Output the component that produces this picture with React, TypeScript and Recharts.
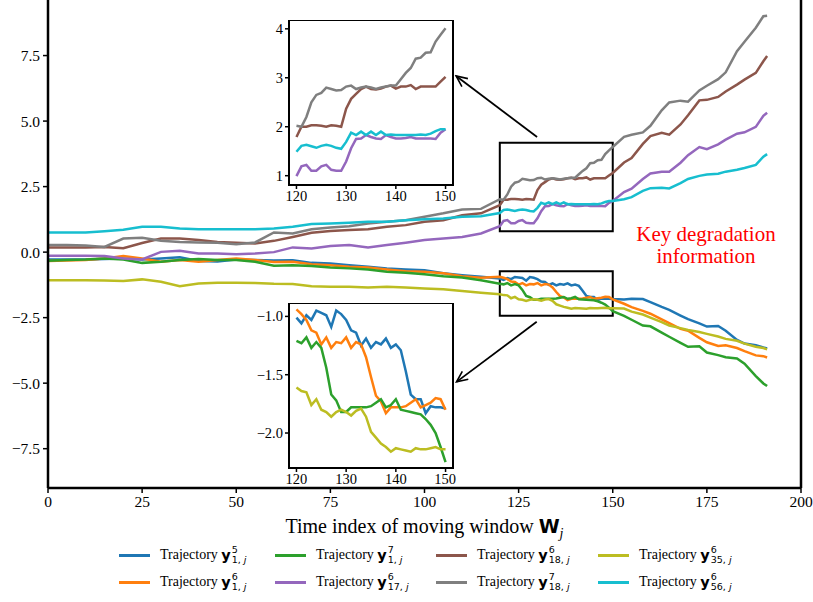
import React from 'react';
import { LineChart, Line, XAxis, YAxis, ReferenceArea, ReferenceLine } from 'recharts';

// time index of the moving window (dense inside the zoomed 120-150 range)
const windowIndex = [
  0, 5, 10, 15, 20, 25, 30, 35, 40, 45, 50, 55, 60, 65, 70, 75, 80, 85, 90, 95, 100, 105, 110, 115,
  120, 121, 122, 123, 124, 125, 126, 127, 128, 129, 130, 131, 132, 133, 134, 135, 136, 137, 138, 139, 140,
  141, 142, 143, 144, 145, 146, 147, 148, 149, 150,
  153, 155, 158, 160, 163, 165, 168, 170, 173, 175, 178, 180, 183, 185, 188, 190, 191,
];

const traj_5_1 = [
  -0.28, -0.28, -0.28, -0.26, -0.24, -0.28, -0.24, -0.2, -0.34, -0.36, -0.28, -0.3, -0.32, -0.31, -0.41, -0.43, -0.5, -0.56, -0.62, -0.66, -0.69, -0.81, -0.88, -0.94,
  -1.01, -1.06, -0.99, -1.03, -0.95, -0.97, -0.99, -1.09, -0.95, -0.98, -1.03, -1.12, -1.14, -1.25, -1.19, -1.27, -1.22, -1.24, -1.19, -1.27, -1.24, -1.29, -1.47, -1.67, -1.71, -1.71, -1.83, -1.77, -1.78, -1.78, -1.79,
  -1.81, -1.78, -1.79, -1.91, -2.09, -2.2, -2.42, -2.56, -2.72, -2.84, -2.82, -3.0, -3.35, -3.49, -3.55, -3.64, -3.68,
];
const traj_6_1 = [
  -0.34, -0.32, -0.3, -0.24, -0.15, -0.24, -0.37, -0.3, -0.37, -0.3, -0.24, -0.3, -0.38, -0.37, -0.46, -0.5, -0.56, -0.59, -0.66, -0.73, -0.75, -0.81, -0.92, -0.98,
  -0.94, -0.98, -1.03, -1.12, -1.14, -1.24, -1.18, -1.27, -1.22, -1.23, -1.18, -1.27, -1.22, -1.24, -1.35, -1.52, -1.68, -1.73, -1.83, -1.78, -1.78, -1.78, -1.77, -1.74, -1.71, -1.78, -1.76, -1.74, -1.7, -1.71, -1.8,
  -1.97, -2.1, -2.24, -2.35, -2.57, -2.71, -2.93, -3.0, -3.27, -3.44, -3.58, -3.55, -3.66, -3.78, -3.94, -3.97, -4.02,
];
const traj_7_1 = [
  -0.33, -0.3, -0.28, -0.24, -0.28, -0.41, -0.37, -0.3, -0.26, -0.3, -0.3, -0.37, -0.52, -0.5, -0.53, -0.59, -0.62, -0.66, -0.75, -0.79, -0.84, -0.92, -0.97, -1.07,
  -1.21, -1.23, -1.18, -1.27, -1.22, -1.27, -1.44, -1.67, -1.72, -1.82, -1.82, -1.78, -1.78, -1.78, -1.78, -1.77, -1.74, -1.71, -1.78, -1.76, -1.71, -1.8, -1.81, -1.82, -1.83, -1.84, -1.88, -1.93, -2.0, -2.12, -2.25,
  -2.43, -2.58, -2.8, -2.83, -3.07, -3.23, -3.46, -3.61, -3.59, -3.83, -3.93, -4.01, -4.06, -4.26, -4.73, -5.01, -5.11,
];
const traj_6_17 = [
  -0.14, -0.14, -0.14, -0.15, -0.24, -0.28, 0.01, 0.05, -0.05, -0.05, -0.08, -0.05, 0.0, 0.18, 0.14, 0.23, 0.27, 0.18, 0.27, 0.36, 0.46, 0.52, 0.58, 0.71,
  0.99, 1.19, 1.22, 1.1, 1.1, 1.19, 1.22, 1.12, 1.1, 1.1, 1.29, 1.56, 1.75, 1.76, 1.83, 1.79, 1.76, 1.75, 1.83, 1.79, 1.76, 1.76, 1.77, 1.79, 1.76, 1.76, 1.76, 1.76, 1.75, 1.88, 1.95,
  2.29, 2.42, 2.79, 3.0, 3.07, 3.07, 3.41, 3.7, 4.01, 3.93, 4.11, 4.29, 4.52, 4.57, 4.78, 5.2, 5.32,
];
const traj_6_18 = [
  0.18, 0.18, 0.18, 0.2, 0.15, 0.35, 0.52, 0.52, 0.46, 0.39, 0.36, 0.33, 0.43, 0.58, 0.74, 0.81, 0.84, 0.87, 0.97, 1.03, 1.16, 1.22, 1.41, 1.48,
  1.79, 2.0, 2.0, 2.03, 2.03, 2.02, 2.0, 2.03, 2.02, 2.0, 2.37, 2.57, 2.67, 2.77, 2.82, 2.77, 2.76, 2.78, 2.82, 2.84, 2.78, 2.82, 2.82, 2.85, 2.77, 2.82, 2.82, 2.82, 2.82, 2.92, 3.02,
  3.42, 3.59, 4.13, 4.43, 4.55, 4.48, 4.87, 5.22, 5.79, 5.81, 5.92, 6.13, 6.39, 6.58, 6.84, 7.28, 7.48,
];
const traj_7_18 = [
  0.27, 0.27, 0.25, 0.2, 0.52, 0.55, 0.43, 0.39, 0.37, 0.36, 0.3, 0.37, 0.75, 0.71, 0.87, 0.94, 0.99, 1.09, 1.16, 1.22, 1.35, 1.48, 1.63, 1.65,
  2.02, 2.0, 2.2, 2.5, 2.65, 2.69, 2.8, 2.77, 2.74, 2.75, 2.82, 2.84, 2.77, 2.8, 2.82, 2.8, 2.77, 2.8, 2.82, 2.84, 2.84, 2.97, 3.1, 3.2, 3.39, 3.41, 3.51, 3.52, 3.74, 3.88, 4.01,
  4.4, 4.48, 4.57, 4.82, 5.41, 5.71, 5.78, 5.74, 6.17, 6.35, 6.6, 6.86, 7.67, 8.03, 8.56, 9.0, 9.02,
];
const traj_6_35 = [
  -1.07, -1.07, -1.07, -1.08, -1.1, -1.04, -1.13, -1.3, -1.2, -1.17, -1.17, -1.18, -1.21, -1.22, -1.3, -1.32, -1.32, -1.35, -1.32, -1.35, -1.39, -1.42, -1.48, -1.55,
  -1.61, -1.64, -1.65, -1.76, -1.71, -1.8, -1.82, -1.86, -1.82, -1.8, -1.82, -1.85, -1.81, -1.79, -1.86, -1.99, -2.04, -2.09, -2.12, -2.16, -2.13, -2.14, -2.15, -2.16, -2.13, -2.14, -2.14, -2.13, -2.12, -2.14, -2.14,
  -2.15, -2.27, -2.38, -2.5, -2.67, -2.8, -2.9, -2.97, -3.05, -3.12, -3.22, -3.31, -3.38, -3.49, -3.61, -3.66, -3.71,
];
const traj_6_56 = [
  0.75, 0.75, 0.75, 0.8, 0.85, 0.97, 0.97, 0.9, 0.87, 0.87, 0.87, 0.87, 0.9, 0.97, 1.07, 1.09, 1.12, 1.16, 1.16, 1.22, 1.25, 1.28, 1.35, 1.37,
  1.49, 1.61, 1.63, 1.6, 1.57, 1.61, 1.63, 1.61, 1.57, 1.55, 1.69, 1.88, 1.83, 1.9, 1.83, 1.9, 1.83, 1.9, 1.83, 1.84, 1.83, 1.83, 1.83, 1.83, 1.83, 1.84, 1.83, 1.86, 1.91, 1.95, 1.95,
  2.02, 2.1, 2.34, 2.44, 2.46, 2.43, 2.63, 2.79, 2.91, 2.96, 2.99, 3.07, 3.14, 3.21, 3.33, 3.64, 3.74,
];

const series = [
  { key: 't5_1', values: traj_5_1, color: '#1f77b4', sup: '5', sub: '1' },
  { key: 't6_1', values: traj_6_1, color: '#ff7f0e', sup: '6', sub: '1' },
  { key: 't7_1', values: traj_7_1, color: '#2ca02c', sup: '7', sub: '1' },
  { key: 't6_17', values: traj_6_17, color: '#9467bd', sup: '6', sub: '17' },
  { key: 't6_18', values: traj_6_18, color: '#8c564b', sup: '6', sub: '18' },
  { key: 't7_18', values: traj_7_18, color: '#7f7f7f', sup: '7', sub: '18' },
  { key: 't6_35', values: traj_6_35, color: '#bcbd22', sup: '6', sub: '35' },
  { key: 't6_56', values: traj_6_56, color: '#17becf', sup: '6', sub: '56' },
];

const upperKeys = ['t6_18', 't7_18', 't6_17', 't6_56'];
const lowerKeys = ['t5_1', 't6_1', 't7_1', 't6_35'];

const xTicks = [0, 25, 50, 75, 100, 125, 150, 175, 200];
const yTicks = [-7.5, -5, -2.5, 0, 2.5, 5, 7.5];
const insetXTicks = [120, 130, 140, 150];
const upperYTicks = [1, 2, 3, 4];
const lowerYTicks = [-2.0, -1.5, -1.0];

const data = windowIndex.map((x, i) => {
  const row: Record<string, number> = { x };
  series.forEach((s) => {
    row[s.key] = s.values[i];
  });
  return row;
});
const zoomData = data.filter((d) => d.x >= 120 && d.x <= 150);

const serif = '"Liberation Serif", "Times New Roman", Times, serif';
const fmt = (v: number) => (v < 0 ? '\u2212' + Math.abs(v).toFixed(1) : v.toFixed(1));
const fmtInt = (v: number) => String(v);

// tick renderers so the labels really use the serif face
const xTick = (fs: number) => (p: any) => (
  <text x={p.x} y={p.y} dy="0.75em" textAnchor="middle" style={{ fontFamily: serif, fontSize: fs }} fill="#000">
    {p.payload.value}
  </text>
);
const yTick = (fs: number, f: (v: number) => string) => (p: any) => (
  <text x={p.x} y={p.y} dy="0.35em" textAnchor="end" style={{ fontFamily: serif, fontSize: fs }} fill="#000">
    {f(p.payload.value)}
  </text>
);

function Inset({ left, top, yWidth, yDomain, yTicks: ticks, keys, yFmt }: any) {
  const plotW = 164;
  const plotH = 165;
  return (
    <>
      <div style={{ position: 'absolute', left: left + yWidth, top, width: plotW, height: plotH, background: '#fff' }} />
      <div style={{ position: 'absolute', left, top }}>
        <LineChart
          width={yWidth + plotW + 4}
          height={plotH + 24}
          data={zoomData}
          margin={{ top: 0, right: 4, left: 0, bottom: 0 }}
        >
          <XAxis
            dataKey="x"
            type="number"
            domain={[118.5, 151.5]}
            ticks={insetXTicks}
            allowDataOverflow
            height={24}
            tick={xTick(14.5)}
            tickSize={4}
            tickMargin={1}
            tickLine={{ stroke: '#000', strokeWidth: 1.5 }}
            axisLine={{ stroke: '#000', strokeWidth: 2 }}
          />
          <YAxis
            type="number"
            domain={yDomain}
            ticks={ticks}
            allowDataOverflow
            width={yWidth}
            tick={yTick(14.5, yFmt)}
            tickSize={4}
            tickMargin={2}
            tickLine={{ stroke: '#000', strokeWidth: 1.5 }}
            axisLine={{ stroke: '#000', strokeWidth: 2 }}
          />
          {series
            .filter((s) => keys.includes(s.key))
            .map((s) => (
              <Line key={s.key} dataKey={s.key} stroke={s.color} strokeWidth={2.5} dot={false} isAnimationActive={false} />
            ))}
          <ReferenceArea
            x1={118.5}
            x2={151.5}
            y1={yDomain[0]}
            y2={yDomain[1]}
            fill="none"
            stroke="#000"
            strokeWidth={2}
            ifOverflow="visible"
          />
        </LineChart>
      </div>
    </>
  );
}

function LegendItem({ s, left, top }: any) {
  return (
    <div style={{ position: 'absolute', left, top: top - 12, height: 24, display: 'flex', alignItems: 'center', whiteSpace: 'nowrap' }}>
      <span style={{ display: 'inline-block', width: 31, height: 3, background: s.color, marginRight: 10 }} />
      <span style={{ fontFamily: serif, fontSize: 14 }}>Trajectory&nbsp;</span>
      <span style={{ fontFamily: '"DejaVu Sans", sans-serif', fontWeight: 'bold', fontSize: 14.5 }}>y</span>
      <span
        style={{
          display: 'inline-flex',
          flexDirection: 'column',
          fontFamily: '"DejaVu Sans", sans-serif',
          fontSize: 9.5,
          lineHeight: '10px',
          marginLeft: 1,
        }}
      >
        <span>{s.sup}</span>
        <span>
          {s.sub}, <i>j</i>
        </span>
      </span>
    </div>
  );
}

export default function App() {
  const colX = [119, 275, 436, 598];
  const rowY = [555, 582];
  return (
    <div style={{ position: 'relative', width: 813, height: 602, background: '#fff', fontFamily: serif }}>
      <style>{`html, body { margin: 0; padding: 0; overflow: hidden; }`}</style>
      <svg width={0} height={0} style={{ position: 'absolute' }}>
        <defs>
          <marker id="openArrow" markerUnits="userSpaceOnUse" markerWidth={14} markerHeight={12} refX={12} refY={6} orient="auto">
            <path d="M1,1 L12,6 L1,11" fill="none" stroke="#000" strokeWidth={1.6} />
          </marker>
        </defs>
      </svg>

      <LineChart
        width={813}
        height={602}
        data={data}
        margin={{ top: 0, right: 12, left: 0, bottom: 84 }}
      >
        <XAxis
          dataKey="x"
          type="number"
          domain={[0, 200]}
          ticks={xTicks}
          allowDataOverflow
          interval={0}
          height={30}
          tick={xTick(15.5)}
          tickSize={5}
          tickMargin={2}
          tickLine={{ stroke: '#000', strokeWidth: 1.5 }}
          axisLine={{ stroke: '#000', strokeWidth: 2.5 }}
        />
        <YAxis
          type="number"
          domain={[-9.0, 9.62]}
          ticks={yTicks}
          allowDataOverflow
          width={48}
          tick={yTick(15.5, fmt)}
          tickSize={5}
          tickMargin={3}
          tickLine={{ stroke: '#000', strokeWidth: 1.5 }}
          axisLine={{ stroke: '#000', strokeWidth: 2.5 }}
        />
        <ReferenceLine x={200} stroke="#000" strokeWidth={2.5} ifOverflow="visible" />
        {series.map((s) => (
          <Line key={s.key} dataKey={s.key} stroke={s.color} strokeWidth={2.5} dot={false} isAnimationActive={false} />
        ))}
        <ReferenceArea x1={120} x2={150} y1={0.8} y2={4.17} fill="none" stroke="#000" strokeWidth={2} ifOverflow="visible" />
        <ReferenceArea x1={120} x2={150} y1={-2.43} y2={-0.73} fill="none" stroke="#000" strokeWidth={2} ifOverflow="visible" />
        <ReferenceLine
          segment={[
            { x: 129.9, y: 4.39 },
            { x: 108.4, y: 6.72 },
          ]}
          stroke="#000"
          strokeWidth={1.8}
          markerEnd="url(#openArrow)"
          ifOverflow="visible"
        />
        <ReferenceLine
          segment={[
            { x: 129.8, y: -2.66 },
            { x: 108.5, y: -4.95 },
          ]}
          stroke="#000"
          strokeWidth={1.8}
          markerEnd="url(#openArrow)"
          ifOverflow="visible"
        />
      </LineChart>

      <Inset left={265} top={20} yWidth={24} yDomain={[0.81, 4.18]} yTicks={upperYTicks} keys={upperKeys} yFmt={fmtInt} />
      <Inset left={253} top={303} yWidth={36} yDomain={[-2.3, -0.885]} yTicks={lowerYTicks} keys={lowerKeys} yFmt={fmt} />

      <div
        style={{
          position: 'absolute',
          left: 600,
          width: 212,
          top: 223,
          textAlign: 'center',
          color: '#ff0000',
          fontFamily: serif,
          fontSize: 21,
          lineHeight: '22px',
        }}
      >
        Key degradation
        <br />
        information
      </div>

      <div
        style={{
          position: 'absolute',
          left: 48,
          width: 753,
          top: 513,
          textAlign: 'center',
          fontFamily: serif,
          fontSize: 20,
          lineHeight: '26px',
          whiteSpace: 'nowrap',
        }}
      >
        Time index of moving window{' '}
        <span style={{ fontFamily: '"DejaVu Sans", sans-serif', fontWeight: 'bold', fontSize: 19 }}>W</span>
        <span style={{ fontStyle: 'italic', fontSize: 14, position: 'relative', top: 5 }}>j</span>
      </div>

      {series.map((s, i) => (
        <LegendItem key={s.key} s={s} left={colX[Math.floor(i / 2)]} top={rowY[i % 2]} />
      ))}
    </div>
  );
}
